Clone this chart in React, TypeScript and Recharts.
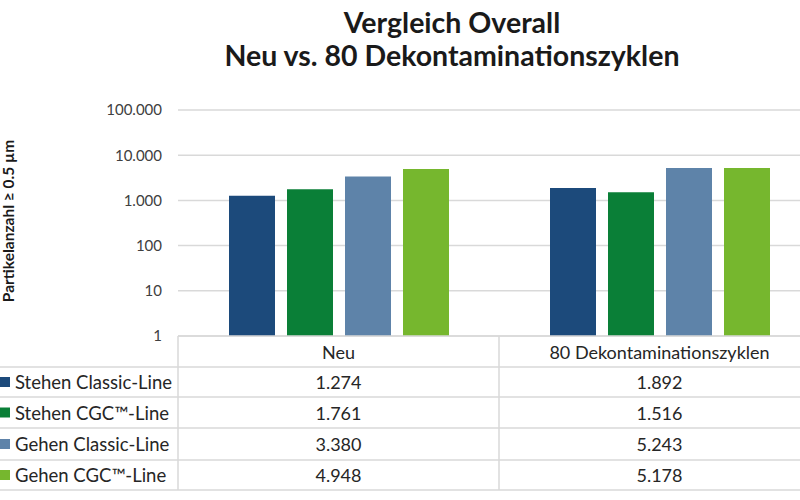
import React from "react";
import { BarChart, Bar, XAxis, YAxis, CartesianGrid } from "recharts";

const categories = ["Neu", "80 Dekontaminationszyklen"];
const seriesNames = ["Stehen Classic-Line", "Stehen CGC™-Line", "Gehen Classic-Line", "Gehen CGC™-Line"];
const stehenClassic = [1274, 1892];
const stehenCGC = [1761, 1516];
const gehenClassic = [3380, 5243];
const gehenCGC = [4948, 5178];
const yTicks = [1, 10, 100, 1000, 10000, 100000];

const seriesValues = [stehenClassic, stehenCGC, gehenClassic, gehenCGC];
const keys = ["s0", "s1", "s2", "s3"];
const colors = ["#1c4a7b", "#0a7f37", "#5e83a9", "#76b72e"];

const data = categories.map((c, i) => {
  const row: any = { name: c };
  keys.forEach((k, j) => (row[k] = seriesValues[j][i]));
  return row;
});

const fmt = (v: number) => String(Math.round(v)).replace(/\B(?=(\d{3})+(?!\d))/g, ".");

const FONT = "Lato, 'Open Sans', sans-serif";
const CHART_W = 820;
const CHART_H = 500;
const PLOT_LEFT = 178;
const PLOT_TOP = 110;
const PLOT_BOTTOM = 336;
const BAND = (CHART_W - PLOT_LEFT) / categories.length;
const ROW_LINES = [367, 397, 428, 460, 490];
const GRID = "#d9d9d9";
const TEXT = "#262626";

const TableTick = (props: any) => {
  const { x, index, payload } = props;
  const half = BAND / 2;
  const headerY = (PLOT_BOTTOM + ROW_LINES[0]) / 2;
  const els: any[] = [];
  els.push(
    <text key="h" x={x} y={headerY} textAnchor="middle" dominantBaseline="central" fontSize={18} fill={TEXT} fontFamily={FONT}>
      {payload.value}
    </text>
  );
  els.push(<line key="vr" x1={x + half} x2={x + half} y1={PLOT_BOTTOM} y2={ROW_LINES[4]} stroke={GRID} strokeWidth={1.5} />);
  seriesValues.forEach((vals, i) => {
    const cy = (ROW_LINES[i] + ROW_LINES[i + 1]) / 2;
    els.push(
      <text key={"v" + i} x={x} y={cy} textAnchor="middle" dominantBaseline="central" fontSize={18} fill={TEXT} fontFamily={FONT}>
        {fmt(vals[index])}
      </text>
    );
  });
  if (index === 0) {
    els.push(<line key="vl" x1={x - half} x2={x - half} y1={PLOT_BOTTOM} y2={ROW_LINES[4]} stroke={GRID} strokeWidth={1.5} />);
    ROW_LINES.forEach((ly, i) => {
      els.push(<line key={"hl" + i} x1={0} x2={CHART_W} y1={ly} y2={ly} stroke={GRID} strokeWidth={1.5} />);
    });
    seriesNames.forEach((n, i) => {
      const cy = (ROW_LINES[i] + ROW_LINES[i + 1]) / 2;
      els.push(<rect key={"m" + i} x={0} y={cy - 5} width={10} height={10} fill={colors[i]} />);
      els.push(
        <text key={"l" + i} x={15} y={cy} dominantBaseline="central" fontSize={18.5} fill={TEXT} fontFamily={FONT}>
          {n}
        </text>
      );
    });
  }
  return <g>{els}</g>;
};

const YLabel = () => {
  const cx = 8;
  const cy = 221;
  return (
    <text x={cx} y={cy} transform={`rotate(-90, ${cx}, ${cy})`} textAnchor="middle" dominantBaseline="central" fontSize={15.5} fontWeight="bold" fill="#1a1a1a" fontFamily={FONT}>
      Partikelanzahl ≥ 0.5 µm
    </text>
  );
};

export default function App() {
  return (
    <div style={{ position: "fixed", left: 0, top: 0, width: 800, height: 500, overflow: "hidden", background: "#fff" }}>
      <div
        style={{
          position: "absolute",
          left: 0,
          top: 6,
          width: 904,
          textAlign: "center",
          fontFamily: FONT,
          fontWeight: "bold",
          fontSize: 28.5,
          lineHeight: "33px",
          color: "#1a1a1a",
        }}
      >
        <div>Vergleich Overall</div>
        <div>Neu vs. 80 Dekontaminationszyklen</div>
      </div>
      <div style={{ position: "absolute", left: 0, top: 0 }}>
        <BarChart
          width={CHART_W}
          height={CHART_H}
          data={data}
          margin={{ top: PLOT_TOP, right: 0, left: 0, bottom: 0 }}
          barSize={46}
          barGap={12}
        >
          <CartesianGrid horizontal={true} vertical={false} stroke={GRID} strokeWidth={1.5} />
          <XAxis
            dataKey="name"
            height={CHART_H - PLOT_BOTTOM}
            axisLine={{ stroke: GRID, strokeWidth: 1.5 }}
            tickLine={false}
            tick={<TableTick />}
            interval={0}
          />
          <YAxis
            scale="log"
            domain={[1, 100000]}
            ticks={yTicks}
            allowDataOverflow
            width={PLOT_LEFT}
            axisLine={false}
            tickLine={false}
            tickMargin={10}
            tickFormatter={fmt}
            tick={{ fontSize: 15, fill: "#404040", fontFamily: FONT }}
            label={<YLabel />}
          />
          {keys.map((k, i) => (
            <Bar key={k} dataKey={k} name={seriesNames[i]} fill={colors[i]} isAnimationActive={false} />
          ))}
        </BarChart>
      </div>
    </div>
  );
}
